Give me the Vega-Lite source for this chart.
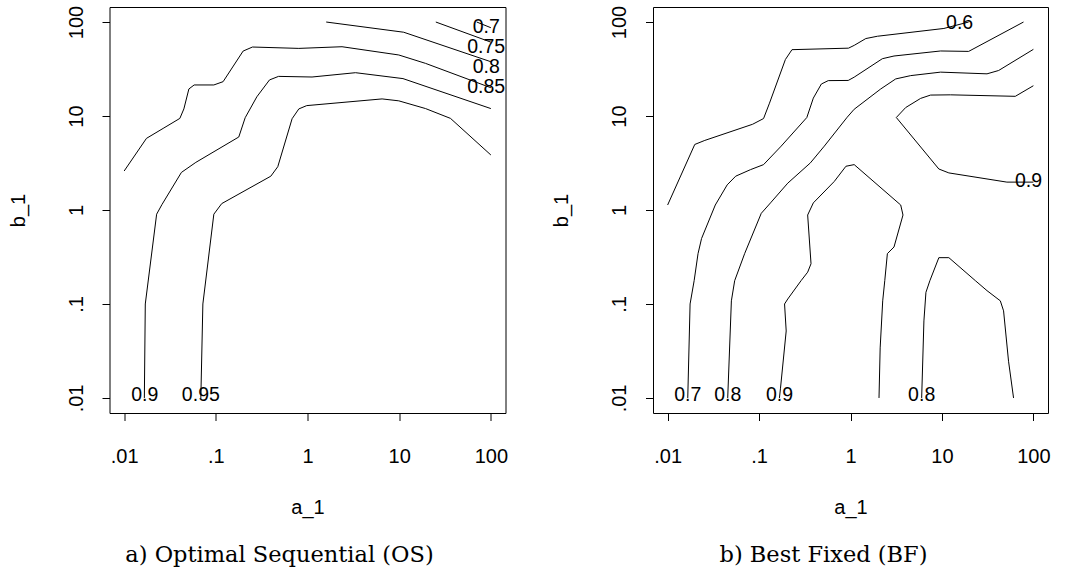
{
  "$schema": "https://vega.github.io/schema/vega-lite/v6.json",
  "background": "white",
  "padding": {"left": 7.5, "top": 4, "right": 0, "bottom": 0},
  "spacing": 42.5,
  "config": {
    "view": {"stroke": "#000000", "strokeWidth": 1},
    "axis": {
      "domain": false, "grid": false, "ticks": true, "tickColor": "#000000", "tickSize": 7.5, "tickWidth": 1,
      "labelFont": "Liberation Sans", "labelFontSize": 20, "labelColor": "#000000", "labelFlush": false, "labelOverlap": false,
      "titleFont": "Liberation Sans", "titleFontSize": 20, "titleFontWeight": "normal", "titleColor": "#000000"
    },
    "title": {"font": "DejaVu Serif", "fontSize": 22.5, "fontWeight": "normal", "color": "#000000"}
  },
  "datasets": {
    "os_lines": [
      {"c": "0.7", "i": 1, "a": 70.2, "b": 100}, {"c": "0.7", "i": 2, "a": 100, "b": 87},
      {"c": "0.75", "i": 1, "a": 25.1, "b": 100}, {"c": "0.75", "i": 2, "a": 100, "b": 61.1},
      {"c": "0.8", "i": 1, "a": 1.6, "b": 100}, {"c": "0.8", "i": 2, "a": 11.2, "b": 77.9}, {"c": "0.8", "i": 3, "a": 100, "b": 37.8},
      {"c": "0.85", "i": 1, "a": 0.01, "b": 2.6}, {"c": "0.85", "i": 2, "a": 0.0175, "b": 5.78}, {"c": "0.85", "i": 3, "a": 0.0266, "b": 7.38},
      {"c": "0.85", "i": 4, "a": 0.0405, "b": 9.43}, {"c": "0.85", "i": 5, "a": 0.0448, "b": 11.9}, {"c": "0.85", "i": 6, "a": 0.0508, "b": 19.4},
      {"c": "0.85", "i": 7, "a": 0.058, "b": 21.4}, {"c": "0.85", "i": 8, "a": 0.0951, "b": 21.4}, {"c": "0.85", "i": 9, "a": 0.12, "b": 23.2},
      {"c": "0.85", "i": 10, "a": 0.1985, "b": 49.1}, {"c": "0.85", "i": 11, "a": 0.251, "b": 54.2}, {"c": "0.85", "i": 12, "a": 0.804, "b": 52.4},
      {"c": "0.85", "i": 13, "a": 2.38, "b": 54.6}, {"c": "0.85", "i": 14, "a": 9.9, "b": 44.6}, {"c": "0.85", "i": 15, "a": 19.4, "b": 36.3},
      {"c": "0.85", "i": 16, "a": 100, "b": 20},
      {"c": "0.9", "i": 1, "a": 0.0166, "b": 0.01}, {"c": "0.9", "i": 2, "a": 0.017, "b": 0.1}, {"c": "0.9", "i": 3, "a": 0.0226, "b": 0.902},
      {"c": "0.9", "i": 4, "a": 0.0258, "b": 1.14}, {"c": "0.9", "i": 5, "a": 0.0421, "b": 2.51}, {"c": "0.9", "i": 6, "a": 0.0605, "b": 3.21},
      {"c": "0.9", "i": 7, "a": 0.178, "b": 5.98}, {"c": "0.9", "i": 8, "a": 0.209, "b": 9.59}, {"c": "0.9", "i": 9, "a": 0.28, "b": 16},
      {"c": "0.9", "i": 10, "a": 0.385, "b": 24.2}, {"c": "0.9", "i": 11, "a": 0.483, "b": 26.4}, {"c": "0.9", "i": 12, "a": 1.12, "b": 26},
      {"c": "0.9", "i": 13, "a": 3.34, "b": 28.9}, {"c": "0.9", "i": 14, "a": 11, "b": 25}, {"c": "0.9", "i": 15, "a": 100, "b": 12},
      {"c": "0.95", "i": 1, "a": 0.0686, "b": 0.01}, {"c": "0.95", "i": 2, "a": 0.0722, "b": 0.1}, {"c": "0.95", "i": 3, "a": 0.0951, "b": 0.902},
      {"c": "0.95", "i": 4, "a": 0.116, "b": 1.17}, {"c": "0.95", "i": 5, "a": 0.398, "b": 2.29}, {"c": "0.95", "i": 6, "a": 0.474, "b": 2.89},
      {"c": "0.95", "i": 7, "a": 0.679, "b": 9.36}, {"c": "0.95", "i": 8, "a": 0.804, "b": 11.9}, {"c": "0.95", "i": 9, "a": 0.98, "b": 12.9},
      {"c": "0.95", "i": 10, "a": 6.51, "b": 15.2}, {"c": "0.95", "i": 11, "a": 9.9, "b": 14.5}, {"c": "0.95", "i": 12, "a": 19.4, "b": 12},
      {"c": "0.95", "i": 13, "a": 36.3, "b": 9.43}, {"c": "0.95", "i": 14, "a": 100, "b": 3.85}
    ],
    "os_labels": [
      {"t": "0.7", "a": 89, "b": 88.5}, {"t": "0.75", "a": 89, "b": 54.6}, {"t": "0.8", "a": 89, "b": 33.2}, {"t": "0.85", "a": 89, "b": 20.3},
      {"t": "0.9", "a": 0.0168, "b": 0.0108}, {"t": "0.95", "a": 0.0686, "b": 0.0108}
    ],
    "bf_lines": [
      {"c": "A", "i": 1, "a": 0.01, "b": 1.13}, {"c": "A", "i": 2, "a": 0.0198, "b": 4.98}, {"c": "A", "i": 3, "a": 0.0255, "b": 5.5},
      {"c": "A", "i": 4, "a": 0.085, "b": 8.17}, {"c": "A", "i": 5, "a": 0.112, "b": 9.4}, {"c": "A", "i": 6, "a": 0.13, "b": 13.7},
      {"c": "A", "i": 7, "a": 0.194, "b": 39.9}, {"c": "A", "i": 8, "a": 0.229, "b": 50.8}, {"c": "A", "i": 9, "a": 0.95, "b": 52.7},
      {"c": "A", "i": 10, "a": 1.1, "b": 56.5}, {"c": "A", "i": 11, "a": 1.47, "b": 66.7}, {"c": "A", "i": 12, "a": 1.97, "b": 70.6},
      {"c": "A", "i": 13, "a": 10.5, "b": 85.4}, {"c": "A", "i": 14, "a": 19.6, "b": 100},
      {"c": "B", "i": 1, "a": 0.0166, "b": 0.01}, {"c": "B", "i": 2, "a": 0.0176, "b": 0.1}, {"c": "B", "i": 3, "a": 0.0195, "b": 0.177},
      {"c": "B", "i": 4, "a": 0.0215, "b": 0.343}, {"c": "B", "i": 5, "a": 0.0235, "b": 0.497}, {"c": "B", "i": 6, "a": 0.0332, "b": 1.13},
      {"c": "B", "i": 7, "a": 0.0448, "b": 1.85}, {"c": "B", "i": 8, "a": 0.0555, "b": 2.29}, {"c": "B", "i": 9, "a": 0.0808, "b": 2.69},
      {"c": "B", "i": 10, "a": 0.112, "b": 3.04}, {"c": "B", "i": 11, "a": 0.1745, "b": 4.78}, {"c": "B", "i": 12, "a": 0.333, "b": 9.64},
      {"c": "B", "i": 13, "a": 0.392, "b": 15.5}, {"c": "B", "i": 14, "a": 0.48, "b": 21.9}, {"c": "B", "i": 15, "a": 0.571, "b": 23.8},
      {"c": "B", "i": 16, "a": 0.944, "b": 23.9}, {"c": "B", "i": 17, "a": 1.097, "b": 25.9}, {"c": "B", "i": 18, "a": 2.23, "b": 40.7},
      {"c": "B", "i": 19, "a": 2.99, "b": 43.5}, {"c": "B", "i": 20, "a": 9.66, "b": 49.2}, {"c": "B", "i": 21, "a": 19.6, "b": 48.7},
      {"c": "B", "i": 22, "a": 78, "b": 100},
      {"c": "C", "i": 1, "a": 0.0454, "b": 0.01}, {"c": "C", "i": 2, "a": 0.0498, "b": 0.108}, {"c": "C", "i": 3, "a": 0.0541, "b": 0.177},
      {"c": "C", "i": 4, "a": 0.0695, "b": 0.343}, {"c": "C", "i": 5, "a": 0.1057, "b": 0.922}, {"c": "C", "i": 6, "a": 0.1334, "b": 1.19},
      {"c": "C", "i": 7, "a": 0.206, "b": 1.93}, {"c": "C", "i": 8, "a": 0.364, "b": 3.17}, {"c": "C", "i": 9, "a": 0.517, "b": 4.78},
      {"c": "C", "i": 10, "a": 0.92, "b": 9.71}, {"c": "C", "i": 11, "a": 1.097, "b": 11.8}, {"c": "C", "i": 12, "a": 2.14, "b": 19.4},
      {"c": "C", "i": 13, "a": 3.12, "b": 24.8}, {"c": "C", "i": 14, "a": 4.55, "b": 26.9}, {"c": "C", "i": 15, "a": 9.66, "b": 29.3},
      {"c": "C", "i": 16, "a": 31.1, "b": 28.1}, {"c": "C", "i": 17, "a": 41.7, "b": 30.5}, {"c": "C", "i": 18, "a": 100, "b": 51.2},
      {"c": "D", "i": 1, "a": 0.167, "b": 0.01}, {"c": "D", "i": 2, "a": 0.1715, "b": 0.0127}, {"c": "D", "i": 3, "a": 0.198, "b": 0.0516},
      {"c": "D", "i": 4, "a": 0.19, "b": 0.1}, {"c": "D", "i": 5, "a": 0.206, "b": 0.113}, {"c": "D", "i": 6, "a": 0.288, "b": 0.177},
      {"c": "D", "i": 7, "a": 0.34, "b": 0.218}, {"c": "D", "i": 8, "a": 0.37, "b": 0.268}, {"c": "D", "i": 9, "a": 0.34, "b": 0.884},
      {"c": "D", "i": 10, "a": 0.392, "b": 1.19}, {"c": "D", "i": 11, "a": 0.664, "b": 2.01}, {"c": "D", "i": 12, "a": 0.891, "b": 2.92},
      {"c": "D", "i": 13, "a": 1.097, "b": 3.04}, {"c": "D", "i": 14, "a": 3.54, "b": 1.13}, {"c": "D", "i": 15, "a": 3.75, "b": 0.884},
      {"c": "D", "i": 16, "a": 2.99, "b": 0.404}, {"c": "D", "i": 17, "a": 2.53, "b": 0.343}, {"c": "D", "i": 18, "a": 2.37, "b": 0.177},
      {"c": "D", "i": 19, "a": 2.25, "b": 0.108}, {"c": "D", "i": 20, "a": 2.11, "b": 0.0341}, {"c": "D", "i": 21, "a": 2.05, "b": 0.01},
      {"c": "E", "i": 1, "a": 100, "b": 21}, {"c": "E", "i": 2, "a": 63.4, "b": 16.2}, {"c": "E", "i": 3, "a": 12.4, "b": 16.8},
      {"c": "E", "i": 4, "a": 7.51, "b": 16.7}, {"c": "E", "i": 5, "a": 5.85, "b": 15.4}, {"c": "E", "i": 6, "a": 4.01, "b": 12.3},
      {"c": "E", "i": 7, "a": 3.17, "b": 9.64}, {"c": "E", "i": 8, "a": 9.25, "b": 2.73}, {"c": "E", "i": 9, "a": 11.9, "b": 2.48},
      {"c": "E", "i": 10, "a": 51.3, "b": 1.98}, {"c": "E", "i": 11, "a": 100, "b": 1.98},
      {"c": "F", "i": 1, "a": 6.0, "b": 0.01}, {"c": "F", "i": 2, "a": 6.35, "b": 0.066}, {"c": "F", "i": 3, "a": 6.68, "b": 0.133},
      {"c": "F", "i": 4, "a": 7.38, "b": 0.177}, {"c": "F", "i": 5, "a": 9.25, "b": 0.311}, {"c": "F", "i": 6, "a": 11.9, "b": 0.311},
      {"c": "F", "i": 7, "a": 23.2, "b": 0.177}, {"c": "F", "i": 8, "a": 31.1, "b": 0.1386}, {"c": "F", "i": 9, "a": 43.5, "b": 0.108},
      {"c": "F", "i": 10, "a": 47.2, "b": 0.0845}, {"c": "F", "i": 11, "a": 53.5, "b": 0.0246}, {"c": "F", "i": 12, "a": 60.7, "b": 0.01}
    ],
    "bf_labels": [
      {"t": "0.6", "a": 15.6, "b": 96.6}, {"t": "0.9", "a": 88.5, "b": 2.01},
      {"t": "0.7", "a": 0.0166, "b": 0.0108}, {"t": "0.8", "a": 0.0454, "b": 0.0108}, {"t": "0.9", "a": 0.167, "b": 0.0108}, {"t": "0.8", "a": 6.0, "b": 0.0108}
    ]
  },
  "hconcat": [
    {
      "width": 396, "height": 406,
      "title": {"text": "a) Optimal Sequential (OS)", "orient": "bottom", "anchor": "middle", "frame": "group", "dx": -28, "baseline": "top", "offset": 26},
      "encoding": {
        "x": {"field": "a", "type": "quantitative", "scale": {"type": "log", "domain": [0.006918, 144.5], "nice": false},
          "axis": {"values": [0.01, 0.1, 1, 10, 100], "labelExpr": "datum.value < 0.05 ? '.01' : datum.value < 0.5 ? '.1' : datum.value < 5 ? '1' : datum.value < 50 ? '10' : '100'",
            "labelPadding": 25.5, "labelBaseline": "top", "title": "a_1", "titleY": 100.5, "titleBaseline": "alphabetic"}},
        "y": {"field": "b", "type": "quantitative", "scale": {"type": "log", "domain": [0.006918, 144.5], "nice": false},
          "axis": {"values": [0.01, 0.1, 1, 10, 100], "labelExpr": "datum.value < 0.05 ? '.01' : datum.value < 0.5 ? '.1' : datum.value < 5 ? '1' : datum.value < 50 ? '10' : '100'",
            "labelAngle": -90, "labelAlign": "center", "labelBaseline": "bottom", "labelPadding": 16,
            "title": "b_1", "titleAngle": -90, "titleX": -85.3, "titleY": 203, "titleAlign": "center", "titleBaseline": "alphabetic"}}
      },
      "layer": [
        {"data": {"name": "os_lines"}, "mark": {"type": "line", "color": "#000000", "strokeWidth": 1},
          "encoding": {"detail": {"field": "c"}, "order": {"field": "i", "type": "quantitative"}}},
        {"data": {"name": "os_labels"}, "mark": {"type": "text", "font": "Liberation Sans", "fontSize": 19.5, "baseline": "middle", "align": "center", "color": "#000000"},
          "encoding": {"text": {"field": "t"}}}
      ]
    },
    {
      "width": 395, "height": 406,
      "title": {"text": "b) Best Fixed (BF)", "orient": "bottom", "anchor": "middle", "frame": "group", "dx": -27, "baseline": "top", "offset": 26},
      "encoding": {
        "x": {"field": "a", "type": "quantitative", "scale": {"type": "log", "domain": [0.006918, 144.5], "nice": false},
          "axis": {"values": [0.01, 0.1, 1, 10, 100], "labelExpr": "datum.value < 0.05 ? '.01' : datum.value < 0.5 ? '.1' : datum.value < 5 ? '1' : datum.value < 50 ? '10' : '100'",
            "labelPadding": 25.5, "labelBaseline": "top", "title": "a_1", "titleY": 100.5, "titleBaseline": "alphabetic"}},
        "y": {"field": "b", "type": "quantitative", "scale": {"type": "log", "domain": [0.006918, 144.5], "nice": false},
          "axis": {"values": [0.01, 0.1, 1, 10, 100], "labelExpr": "datum.value < 0.05 ? '.01' : datum.value < 0.5 ? '.1' : datum.value < 5 ? '1' : datum.value < 50 ? '10' : '100'",
            "labelAngle": -90, "labelAlign": "center", "labelBaseline": "bottom", "labelPadding": 16,
            "title": "b_1", "titleAngle": -90, "titleX": -85.3, "titleY": 203, "titleAlign": "center", "titleBaseline": "alphabetic"}}
      },
      "layer": [
        {"data": {"name": "bf_lines"}, "mark": {"type": "line", "color": "#000000", "strokeWidth": 1},
          "encoding": {"detail": {"field": "c"}, "order": {"field": "i", "type": "quantitative"}}},
        {"data": {"name": "bf_labels"}, "mark": {"type": "text", "font": "Liberation Sans", "fontSize": 19.5, "baseline": "middle", "align": "center", "color": "#000000"},
          "encoding": {"text": {"field": "t"}}}
      ]
    }
  ]
}
